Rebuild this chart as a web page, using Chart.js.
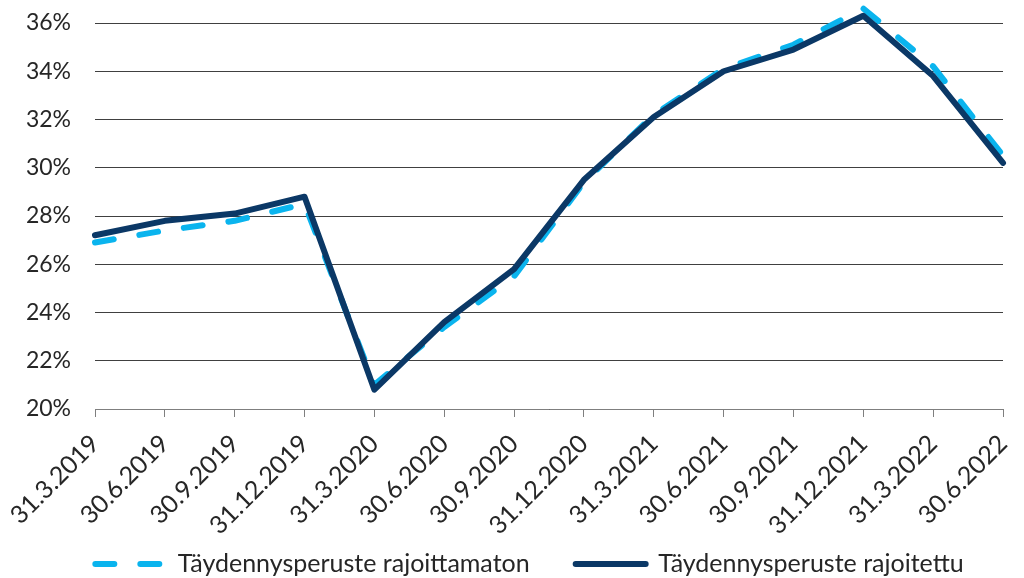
<!DOCTYPE html>
<html>
<head>
<meta charset="utf-8">
<script src="https://cdn.jsdelivr.net/npm/chart.js@4/dist/chart.umd.min.js"></script>
<style>
html,body{margin:0;padding:0;background:#fff;}
#wrap{width:1024px;height:578px;position:relative;}
</style>
</head>
<body>
<div id="wrap"><canvas id="c" width="1024" height="578"></canvas></div>
<script>
const categories = ['31.3.2019','30.6.2019','30.9.2019','31.12.2019','31.3.2020','30.6.2020','30.9.2020','31.12.2020','31.3.2021','30.6.2021','30.9.2021','31.12.2021','31.3.2022','30.6.2022'];
const rajoittamaton = [26.9, 27.4, 27.8, 28.5, 21.0, 23.4, 25.5, 29.4, 32.2, 34.1, 35.1, 36.6, 34.2, 30.5];
const rajoitettu = [27.2, 27.8, 28.1, 28.8, 20.8, 23.6, 25.8, 29.5, 32.1, 34.0, 34.9, 36.3, 33.8, 30.2];
const seriesNames = ['Täydennysperuste rajoittamaton', 'Täydennysperuste rajoitettu'];
const yMin = 20, yMax = 36, yStep = 2;

const FONT = 'Lato, "Open Sans", sans-serif';
const TXT = '#262626';

const legendShift = {
  id: 'legendShift',
  afterLayout(chart) {
    const lg = chart.legend;
    if (!lg) return;
    const target = 564; // desired legend text centre
    const lab = lg.options.labels;
    lg.top = target - lab.padding - lab.font.size / 2;
    lg.bottom = chart.height;
    lg.left += 28; lg.right += 28;
  }
};

new Chart(document.getElementById('c'), {
  type: 'line',
  data: {
    labels: categories,
    datasets: [
      {
        label: seriesNames[0],
        data: rajoittamaton,
        borderColor: '#0AB4EE',
        backgroundColor: '#0AB4EE',
        borderWidth: 6,
        borderDash: [19, 26],
        borderCapStyle: 'round',
        borderJoinStyle: 'round',
        pointRadius: 0,
        tension: 0,
        clip: false,
        order: 1
      },
      {
        label: seriesNames[1],
        data: rajoitettu,
        borderColor: '#0B3866',
        backgroundColor: '#0B3866',
        borderWidth: 6,
        borderCapStyle: 'round',
        borderJoinStyle: 'round',
        pointRadius: 0,
        tension: 0,
        clip: false,
        order: 0
      }
    ]
  },
  options: {
    responsive: false,
    animation: false,
    devicePixelRatio: 1,
    layout: { padding: { left: 0, right: 21, top: 23, bottom: 0 } },
    plugins: {
      legend: {
        position: 'bottom',
        maxHeight: 40,
        labels: {
          usePointStyle: true,
          pointStyle: 'line',
          pointStyleWidth: 70,
          boxHeight: 6,
          padding: 46,
          color: TXT,
          font: { family: FONT, size: 25 },
          generateLabels(chart) {
            return chart.data.datasets.map((ds, i) => ({
              text: ds.label,
              fillStyle: ds.borderColor,
              strokeStyle: ds.borderColor,
              lineWidth: 6,
              lineDash: ds.borderDash || [],
              lineCap: 'round',
              pointStyle: 'line',
              hidden: false,
              datasetIndex: i,
              fontColor: TXT
            }));
          }
        }
      },
      tooltip: { enabled: false }
    },
    scales: {
      x: {
        offset: false,
        grid: {
          display: true,
          drawOnChartArea: false,
          drawTicks: true,
          tickLength: 8,
          color: '#7f7f7f',
          lineWidth: 1
        },
        border: { display: true, color: '#7f7f7f', width: 1 },
        ticks: {
          minRotation: 45,
          maxRotation: 45,
          autoSkip: false,
          padding: 12,
          color: TXT,
          font: { family: FONT, size: 25 }
        },
        afterFit(scale) { scale.height = 129; scale.paddingLeft = 0; scale.paddingRight = 0; }
      },
      y: {
        min: yMin,
        max: yMax,
        grid: {
          color: '#404040',
          lineWidth: 1,
          drawTicks: false
        },
        border: { display: false },
        ticks: {
          stepSize: yStep,
          padding: 24,
          color: TXT,
          font: { family: FONT, size: 23 },
          callback: v => v + '%'
        },
        afterFit(scale) { scale.width = 95; scale.paddingTop = 0; scale.paddingBottom = 0; }
      }
    }
  },
  plugins: [legendShift]
});
</script>
</body>
</html>
